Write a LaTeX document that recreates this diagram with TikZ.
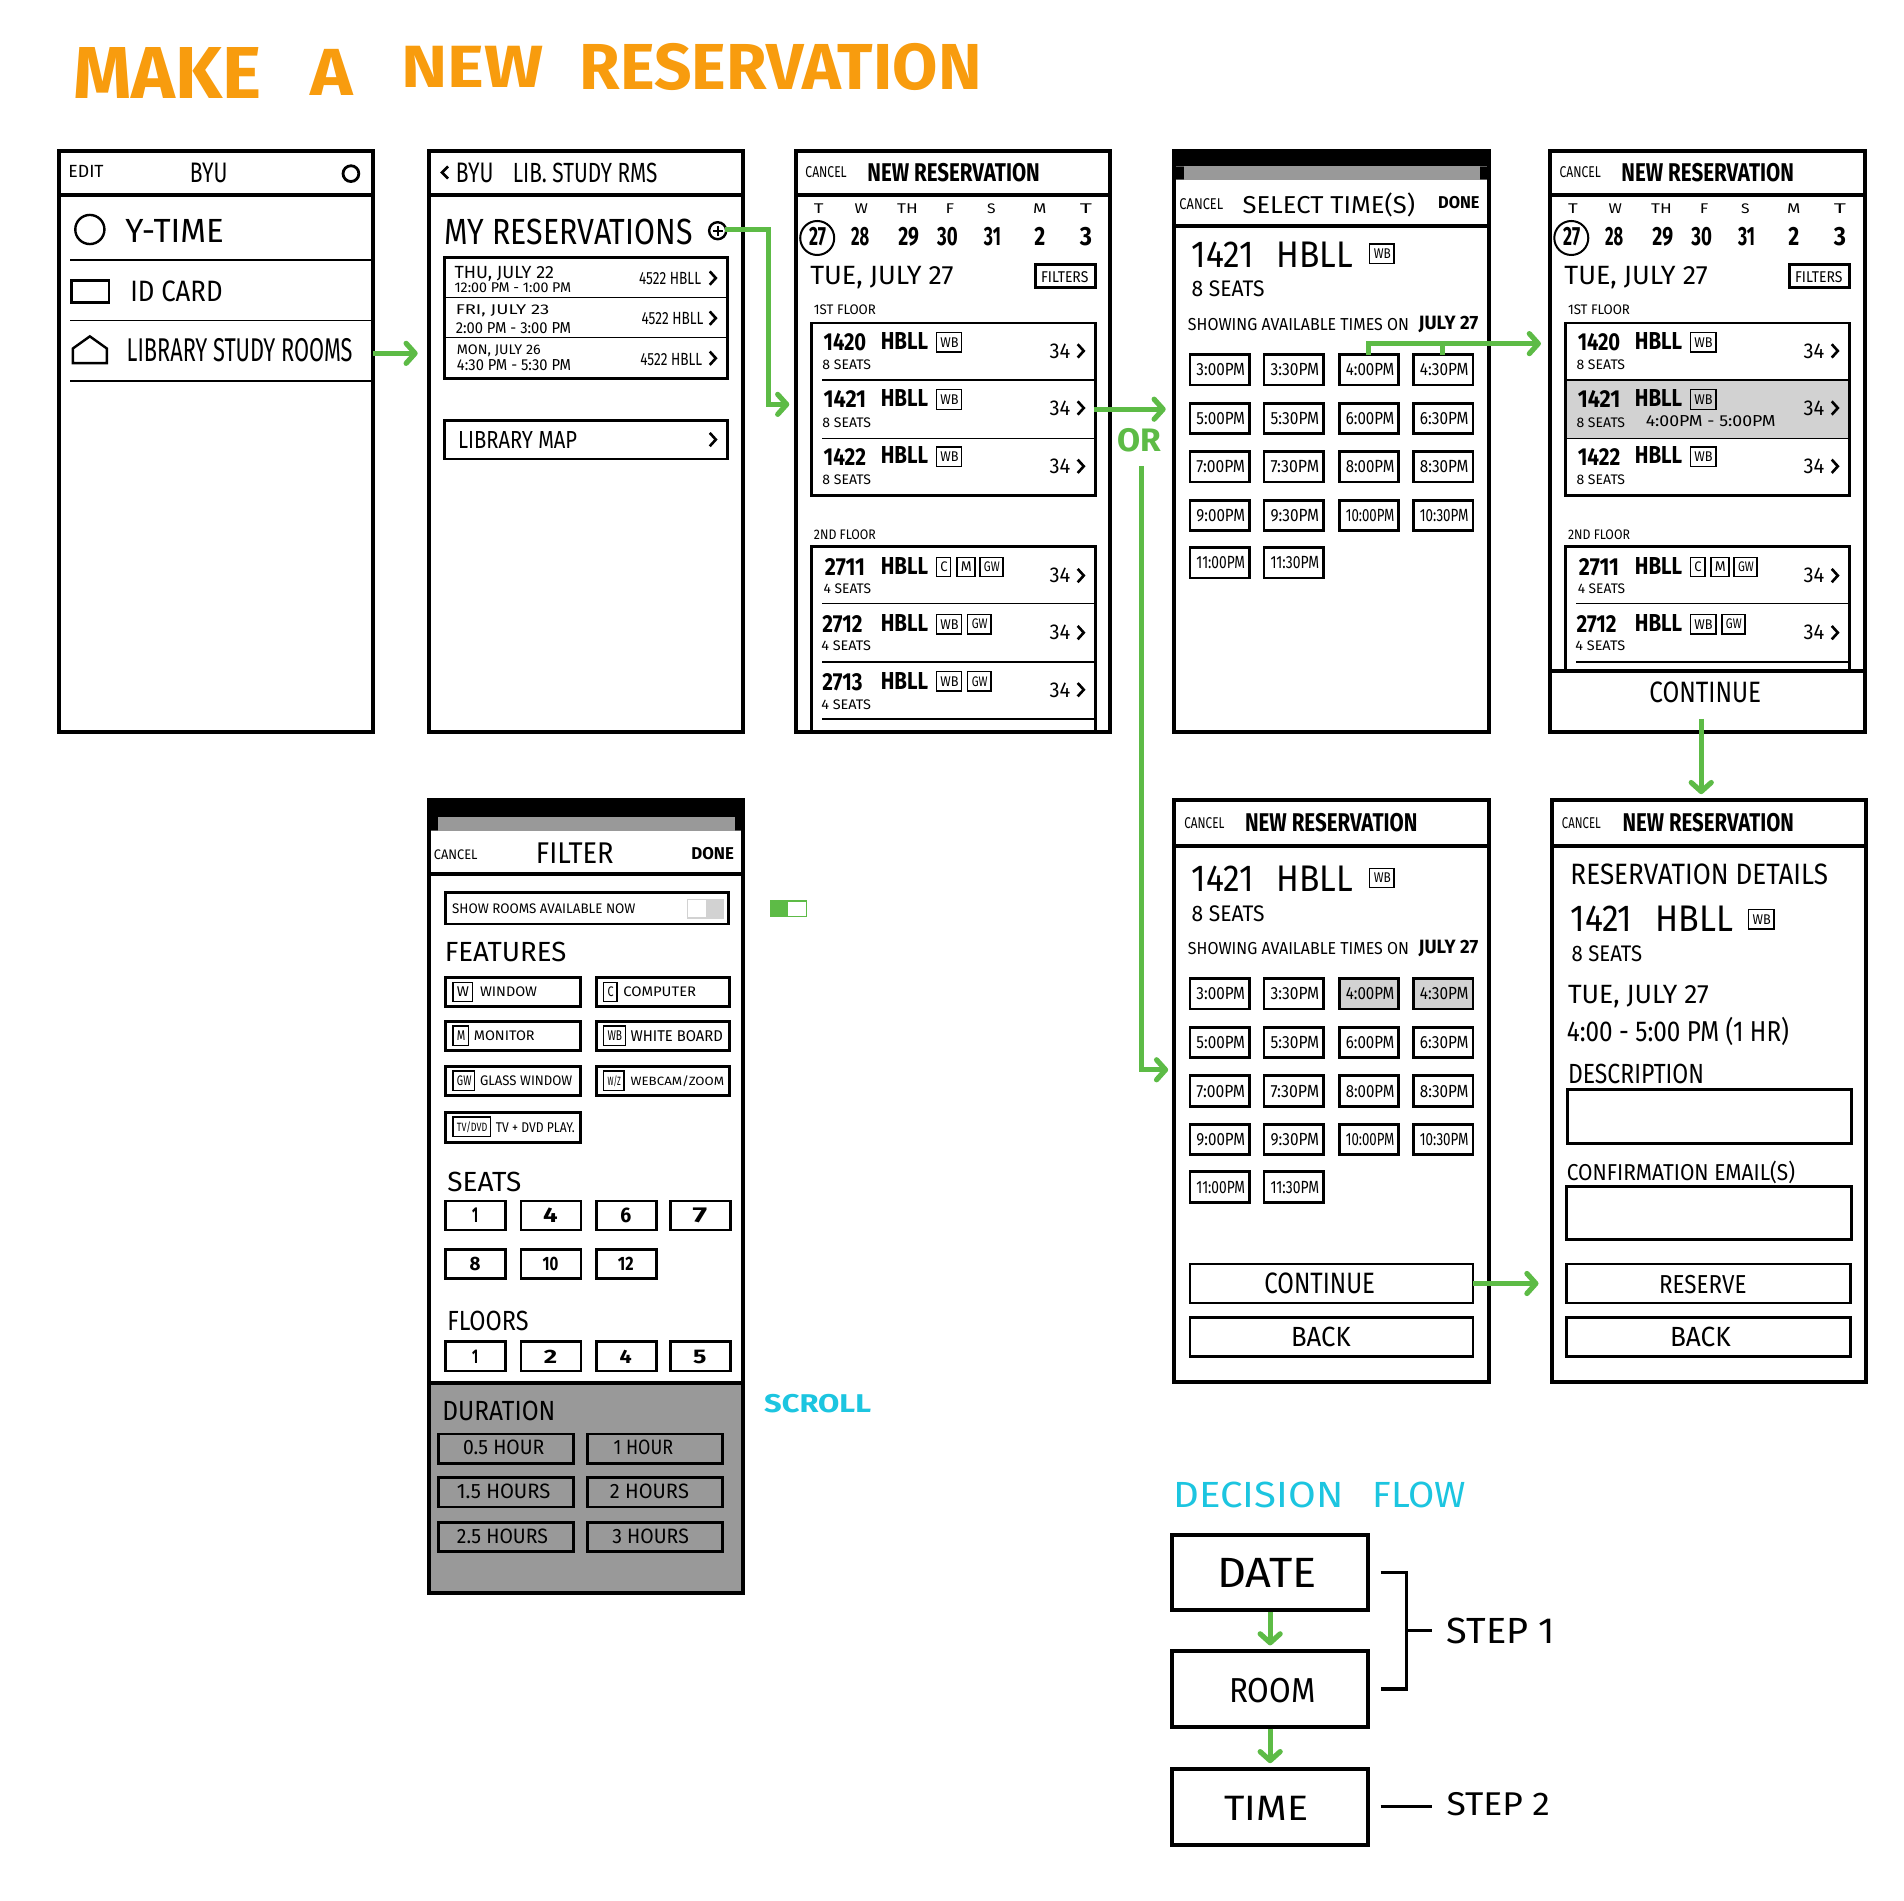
\documentclass[tikz,border=0pt]{standalone}
\usepackage{fontspec}
\setmainfont{Fira Sans}
\usetikzlibrary{arrows.meta}
\definecolor{grn}{HTML}{5DBB46}
\definecolor{org}{HTML}{F89C0E}
\definecolor{cyn}{HTML}{1CC5E0}
\definecolor{gra}{HTML}{999999}
\definecolor{lgr}{HTML}{D2D2D2}
\newcounter{tc}
\newlength{\txw}\newlength{\txh}
\newcommand\tx[6][]{\stepcounter{tc}\pgfmathsetlength{\txw}{((#3)-(#2))*0.6071pt}\pgfmathsetlength{\txh}{(#5)*0.6071pt}%
 \node[anchor=base west,inner sep=0pt,#1] (t\arabic{tc}) at ({#2},{(#4)+(#5)/2}) {\resizebox{\txw}{\txh}{#6}};}
\newcommand\tb[6][]{\tx[#1]{#2}{#3}{#4}{#5}{\bfseries #6}}
\newcommand\bxx[5][]{\draw[boxln,#1] (#2,#3) rectangle (#4,#5);}
\newcommand\chev[2]{\draw[chv] ({#1-2.5},{#2-5.5}) -- ({#1+2.5},{#2}) -- ({#1-2.5},{#2+5.5});}
\newcommand\tagb[4]{\draw[thinb] (#1,#3) rectangle (#2,{#3+16}); \tx{#1+3}{#2-3}{#3+8}{8}{#4}}
\newcommand\screen[4]{\node[frm,minimum width=259*0.6071pt,minimum height=(#3-#2-2)*0.6071pt] (#4) at ({#1+131},{(#2+#3)/2}) {};}
\newcommand\roomrow[6]{% numx1, numx2, num, ynum, seats, yseats
 \tb{#1}{#2}{#4}{14}{#3}
 \tb{725}{764}{#4-1}{14}{HBLL}
 \tx{#1-1}{717}{#6}{8}{#5}
}
\newcommand\rgt[1]{\tx{864}{881}{#1}{12}{34}\chev{890}{#1}}
\newcommand\calhead{%
 \tx{663}{697}{142}{9}{CANCEL}
 \tb{714}{856}{142}{15}{NEW RESERVATION}
 \foreach \xa/\wa/\lb in {674/8/T,709/11/W,747/17/TH,782/7/F,816/7/S,856/11/M,894/10/T}{\tx{\xa-\wa/2}{\xa+\wa/2}{172}{8}{\lb}}
 \draw[line width=1pt] (673,196) circle [radius=14];
 \foreach \xa/\wa/\lb in {673/14/27,708/15/28,748/17/29,780/17/30,817/14/31,856/9/2,894/10/3}{\tb{\xa-\wa/2}{\xa+\wa/2}{195}{15}{\lb}}
 \tx{667}{785}{227}{15}{TUE, JULY 27}
 \bxx{853}{218}{902}{237}
 \tx{857}{896}{228}{9}{FILTERS}
 \tx{670}{721}{255}{8}{1ST FLOOR}
 \tx{670}{721}{440}{8}{2ND FLOOR}
}
\newcommand\firstfloor{%
 \roomrow{678}{713}{1420}{282}{8 SEATS}{300}\tagb{771}{792}{274}{WB}\rgt{289}
 \roomrow{678}{713}{1421}{329}{8 SEATS}{348}\tagb{771}{792}{321}{WB}\rgt{336}
 \roomrow{678}{713}{1422}{376}{8 SEATS}{395}\tagb{771}{792}{368}{WB}\rgt{384}
}
\newcommand\secondfloor{%
 \roomrow{679}{712}{2711}{467}{4 SEATS}{485}\tagb{771}{783}{459}{C}\tagb{788}{803}{459}{M}\tagb{807}{826}{459}{GW}\rgt{474}
 \roomrow{677}{710}{2712}{514}{4 SEATS}{532}\tagb{771}{792}{506}{WB}\tagb{797}{816}{506}{GW}\rgt{521}
}
\newcommand\timescreen{%
 \tx{981}{1032}{210}{21}{1421}
 \tx{1051}{1114}{210}{21}{HBLL}
 \tagb{1128}{1148}{201}{WB}
 \tx{981}{1041}{238}{13}{8 SEATS}
 \tx{978}{1160}{267}{10}{SHOWING AVAILABLE TIMES ON}
 \tb{1168}{1217}{266}{11}{JULY 27}
 \foreach \lb [count=\ii from 0] in {3:00PM,3:30PM,4:00PM,4:30PM,5:00PM,5:30PM,6:00PM,6:30PM,7:00PM,7:30PM,8:00PM,8:30PM,9:00PM,9:30PM,10:00PM,10:30PM,11:00PM,11:30PM}{
  \pgfmathtruncatemacro\gc{mod(\ii,4)}
  \pgfmathtruncatemacro\gr{floor(\ii/4)}
  \pgfmathsetmacro\gx{{980,1041,1103,1164}[\gc]}
  \pgfmathsetmacro\gy{{292,332,372,412,451}[\gr]}
  \draw[boxln] (\gx,\gy) rectangle ({\gx+49},{\gy+25});
  \tx{\gx+5}{\gx+45}{\gy+12.5}{10}{\lb}
 }
}
\tikzset{
 frm/.style={draw=black,line width=2pt,inner sep=0pt,outer sep=0pt},
 hdr/.style={line width=2pt},
 boxln/.style={line width=1.4pt},
 thinl/.style={line width=0.8pt},
 thinb/.style={line width=0.7pt},
 chv/.style={line width=1.3pt},
 garrow/.style={draw=grn,line width=2.6pt,-{Straight Barb[length=4.5pt,width=10pt,round]}},
 gline/.style={draw=grn,line width=2.6pt},
 dec/.style={draw=black,line width=2pt,inner sep=0pt,minimum width=161*0.6071pt,minimum height=62*0.6071pt},
}
\begin{document}
\begin{tikzpicture}[x=0.6071pt,y=-0.6071pt]
\useasboundingbox (0,0) rectangle (1568,1565);
\fill[white] (0,0) rectangle (1568,1565);
% title
\tb[text=org]{60}{215}{60}{42}{MAKE}
\tb[text=org]{255}{290}{60}{38}{A}
\tb[text=org]{330}{447}{55}{34}{NEW}
\tb[text=org]{477}{808}{55}{38}{RESERVATION}
% screen 1
\draw[hdr] (47,161) -- (309,161);
\tx{56}{85}{141}{10}{EDIT}
\tx{156}{187}{142}{16}{BYU}
\draw[line width=1.4pt] (289,143) circle [radius=6.5];
\draw[line width=1.2pt] (74,189) circle [radius=12];
\tx{103}{184}{190}{19}{Y-TIME}
\draw[thinl] (58,214) -- (307,214);
\draw[line width=1.2pt] (59,231) rectangle (90,249);
\tx{107}{183}{240}{17}{ID CARD}
\draw[thinl] (58,264) -- (307,264);
\draw[line width=1.2pt] (60,299) -- (60,287) -- (74,277) -- (88,287) -- (88,299) -- cycle;
\tx{104}{290}{288}{19}{LIBRARY STUDY ROOMS}
\draw[thinl] (58,314) -- (307,314);
\screen{47}{123}{604}{s1}
% screen 2
\draw[hdr] (352,161) -- (613,161);
\draw[chv] (369,137) -- (364,142) -- (369,147);
\tx{375}{406}{142}{16}{BYU}
\tx{422}{541}{142}{16}{LIB. STUDY RMS}
\tx{366}{570}{191}{21}{MY RESERVATIONS}
\draw[line width=1.2pt] (591,190) circle [radius=7];
\draw[line width=1.1pt] (587,190) -- (595,190) (591,186) -- (591,194);
\bxx{366}{212}{599}{312}
\draw[thinl] (366,245) -- (599,245) (366,278) -- (599,278);
\tx{374}{456}{224}{10}{THU, JULY 22}
\tx{374}{470}{237}{8}{12:00 PM - 1:00 PM}
\tx{526}{577}{229}{10}{4522 HBLL}
\chev{587}{229}
\tx{375}{452}{255}{8}{FRI, JULY 23}
\tx{375}{470}{270}{9}{2:00 PM - 3:00 PM}
\tx{528}{579}{262}{10}{4522 HBLL}
\chev{587}{262}
\tx{376}{445}{288}{8}{MON, JULY 26}
\tx{376}{470}{301}{9}{4:30 PM - 5:30 PM}
\tx{527}{578}{296}{10}{4522 HBLL}
\chev{587}{295}
\bxx{366}{346}{599}{378}
\tx{377}{475}{362}{14}{LIBRARY MAP}
\chev{587}{362}
\screen{351.5}{123}{604}{s2}
% screen 3
\draw[hdr] (654,161) -- (916,161);
\calhead
\draw[boxln] (668,266) rectangle (902,408);
\draw[thinl] (677,313) -- (902,313) (677,361) -- (902,361);
\firstfloor
\draw[boxln] (668,604) -- (668,450) -- (902,450) -- (902,604);
\draw[thinl] (677,497) -- (902,497) (677,545) -- (902,545) (677,592) -- (902,592);
\secondfloor
\roomrow{677}{710}{2713}{562}{4 SEATS}{580}\tagb{771}{792}{553}{WB}\tagb{797}{816}{553}{GW}\rgt{568}
\screen{654}{123}{604}{s3}
% screen 4
\fill (966,123) rectangle (1227,137);
\fill[black] (966,137) rectangle (975,148) (1219,137) rectangle (1227,148);
\fill[gra] (975,137) rectangle (1219,148);
\draw[hdr] (966,186) -- (1227,186);
\tx{971}{1007}{168}{9}{CANCEL}
\tx{1023}{1165}{167}{17}{SELECT TIME(S)}
\tb{1184}{1218}{167}{10}{DONE}
\timescreen
\screen{965.5}{123}{604}{s4}
% screen 5
\begin{scope}[shift={(621,0)}]
\fill[lgr] (668,313) rectangle (902,361);
\draw[hdr] (654,161) -- (916,161);
\calhead
\draw[boxln] (668,266) rectangle (902,408);
\draw[thinl] (668,313) -- (902,313) (668,361) -- (902,361);
\firstfloor
\tx{734}{841}{347}{9}{4:00PM - 5:00PM}
\draw[boxln] (668,553) -- (668,450) -- (902,450) -- (902,553);
\draw[thinl] (677,497) -- (902,497) (677,545) -- (902,545);
\secondfloor
\draw[hdr] (654,553) -- (916,553);
\tx{737}{829}{570}{17}{CONTINUE}
\screen{654}{123}{604}{s5}
\end{scope}
% screen 6 filter
\fill (352,658) rectangle (613,673);
\fill (352,673) rectangle (361,684) (605,673) rectangle (613,684);
\fill[gra] (361,673) rectangle (605,684);
\draw[hdr] (352,720) -- (613,720);
\tx{357}{393}{704}{8}{CANCEL}
\tx{441}{505}{703}{17}{FILTER}
\tb{569}{604}{703}{10}{DONE}
\bxx{367}{735}{600}{761}
\tx{372}{523}{748}{8}{SHOW ROOMS AVAILABLE NOW}
\draw[lgr,line width=0.7pt,fill=white] (566,741) rectangle (596,756);
\fill[lgr] (581,741) rectangle (596,756);
\draw[grn,line width=0.7pt,fill=white] (635,742) rectangle (664,755);
\fill[grn] (635,742) rectangle (649,755);
\tx{366}{466}{784}{16}{FEATURES}
\bxx{367}{805}{478}{829}\bxx{491}{805}{601}{829}
\bxx{367}{841}{478}{865}\bxx{491}{841}{601}{865}
\bxx{367}{878}{478}{902}\bxx{491}{878}{601}{902}
\bxx{367}{916}{478}{941}
\tagb{373}{389}{809}{W}\tx{395}{442}{817}{8}{WINDOW}
\tagb{497}{508}{809}{C}\tx{513}{573}{817}{8}{COMPUTER}
\tagb{373}{386}{845}{M}\tx{390}{440}{853}{8}{MONITOR}
\tagb{497}{515}{845}{WB}\tx{519}{595}{853}{9}{WHITE BOARD}
\tagb{373}{391}{882}{GW}\tx{395}{471}{890}{8}{GLASS WINDOW}
\tagb{497}{514}{882}{W/Z}\tx{519}{596}{890}{8}{WEBCAM/ZOOM}
\tagb{373}{404}{920}{TV/DVD}\tx{408}{473}{929}{8}{TV + DVD PLAY.}
\tx{368}{429}{973}{16}{SEATS}
\foreach \xa/\wa/\lb in {367/5/1,429/12/4,491/9/6,552/12/7}{
 \draw[boxln] (\xa,989) rectangle ({\xa+49.5},1013);
 \tb{\xa+24-\wa/2}{\xa+24+\wa/2}{1001}{12}{\lb}
}
\foreach \xa/\wa/\lb in {367/9/8,429/13/10,491/13/12}{
 \draw[boxln] (\xa,1029) rectangle ({\xa+49.5},1053);
 \tb{\xa+24-\wa/2}{\xa+24+\wa/2}{1041}{11}{\lb}
}
\tx{368}{435}{1088}{16}{FLOORS}
\foreach \xa/\wa/\lb in {367/5/1,429/11/2,491/10/4,552/11/5}{
 \draw[boxln] (\xa,1105) rectangle ({\xa+49.5},1129);
 \tb{\xa+24-\wa/2}{\xa+24+\wa/2}{1117}{11}{\lb}
}
\fill[gra] (352,1139) rectangle (613,1313);
\draw[hdr] (352,1139) -- (613,1139);
\tx{364}{457}{1162}{16}{DURATION}
\bxx{361}{1181}{472}{1205}\bxx{484}{1181}{595}{1205}
\bxx{361}{1217}{472}{1241}\bxx{484}{1217}{595}{1241}
\bxx{361}{1254}{472}{1278}\bxx{484}{1254}{595}{1278}
\tx{381}{448}{1192}{12}{0.5 HOUR}
\tx{505}{554}{1192}{12}{1 HOUR}
\tx{376}{453}{1228}{12}{1.5 HOURS}
\tx{502}{567}{1228}{12}{2 HOURS}
\tx{376}{451}{1265}{12}{2.5 HOURS}
\tx{504}{567}{1265}{12}{3 HOURS}
\node[frm,minimum width=259*0.6071pt,minimum height=653*0.6071pt] (s6) at (482.5,985.5) {};
\tb[text=cyn]{629}{717}{1156}{15}{SCROLL}
% screen 7
\draw[hdr] (966,697) -- (1227,697);
\tx{975}{1008}{678}{9}{CANCEL}
\tb{1025}{1167}{677}{15}{NEW RESERVATION}
\fill[lgr] (1103,806) rectangle (1152,831) (1164,806) rectangle (1213,831);
\begin{scope}[shift={(0,514)}]
\timescreen
\end{scope}
\bxx{980}{1041}{1213}{1073}
\tx{1041}{1132}{1057}{17}{CONTINUE}
\bxx{980}{1085}{1213}{1117}
\tx{1063}{1112}{1101}{16}{BACK}
\screen{965.5}{658}{1139}{s7}
% screen 8
\draw[hdr] (1277,697) -- (1538,697);
\tx{1286}{1318}{678}{9}{CANCEL}
\tb{1336}{1477}{677}{15}{NEW RESERVATION}
\tx{1293}{1505}{720}{17}{RESERVATION DETAILS}
\tx{1293}{1344}{757}{21}{1421}
\tx{1363}{1427}{757}{21}{HBLL}
\tagb{1440}{1461}{749}{WB}
\tx{1294}{1352}{785}{13}{8 SEATS}
\tx{1291}{1407}{819}{15}{TUE, JULY 27}
\tx{1290}{1473}{848}{20}{4:00 - 5:00 PM (1 HR)}
\tx{1291}{1403}{884}{16}{DESCRIPTION}
\bxx{1291}{897}{1525}{942}
\tx{1290}{1478}{964}{16}{CONFIRMATION EMAIL(S)}
\bxx{1290}{977}{1525}{1021}
\bxx{1290}{1041}{1524}{1073}
\tx{1366}{1438}{1058}{15}{RESERVE}
\bxx{1290}{1085}{1524}{1117}
\tx{1375}{1425}{1101}{16}{BACK}
\screen{1276.5}{658}{1139}{s8}
% decision flow
\tx[text=cyn]{966}{1106}{1231}{21}{DECISION}
\tx[text=cyn]{1130}{1207}{1231}{21}{FLOW}
\node[dec] (date) at (1046,1295) {};
\node[dec] (room) at (1046,1391) {};
\node[dec] (time) at (1046,1488) {};
\tx{1002}{1084}{1295}{24}{DATE}
\tx{1012}{1083}{1392}{20}{ROOM}
\tx{1008}{1077}{1489}{20}{TIME}
\coordinate (bt) at (1137,1295);
\coordinate (bb) at (1137,1391);
\coordinate (bm) at (1179,1343);
\coordinate (bl) at (1137,1488);
\coordinate (br) at (1179,1488);
\draw[line width=1.6pt] (bt) -- (1158,1295) -- (1158,1391) -- (bb);
\draw[line width=1.6pt] (1158,1343) -- (bm);
\draw[line width=1.6pt] (bl) -- (br);
\tx{1191}{1280}{1343}{21}{STEP 1}
\tx{1191}{1276}{1486}{19}{STEP 2}
% connectors
\draw[garrow,shorten >=2pt] (date.south) -- (room.north);
\draw[garrow,shorten >=2pt] (room.south) -- (time.north);
\coordinate (a1) at (307,291); \coordinate (a1e) at (344,291);
\draw[garrow] (a1) -- (a1e);
\coordinate (a2) at (597,189); \coordinate (a2e) at (650,333);
\draw[garrow] (a2) -- (633,189) -- (633,333) -- (a2e);
\coordinate (a3) at (901,337); \coordinate (a3e) at (960,337);
\draw[garrow] (a3) -- (a3e);
\tb[text=grn]{920}{956}{362}{19}{OR}
\coordinate (a4) at (940,384); \coordinate (a4e) at (962,881);
\draw[garrow] (a4) -- (940,881) -- (a4e);
\coordinate (a5) at (1127,292); \coordinate (a5e) at (1269,283); \coordinate (a5b) at (1188,292);
\draw[garrow] (a5) -- (1127,283) -- (a5e);
\draw[gline] (a5b) -- (1188,283);
\coordinate (a6) at (1401,592); \coordinate (a6e) at (1401,654);
\draw[garrow] (a6) -- (a6e);
\coordinate (a7) at (1213,1057); \coordinate (a7e) at (1267,1057);
\draw[garrow] (a7) -- (a7e);
\end{tikzpicture}
\end{document}
